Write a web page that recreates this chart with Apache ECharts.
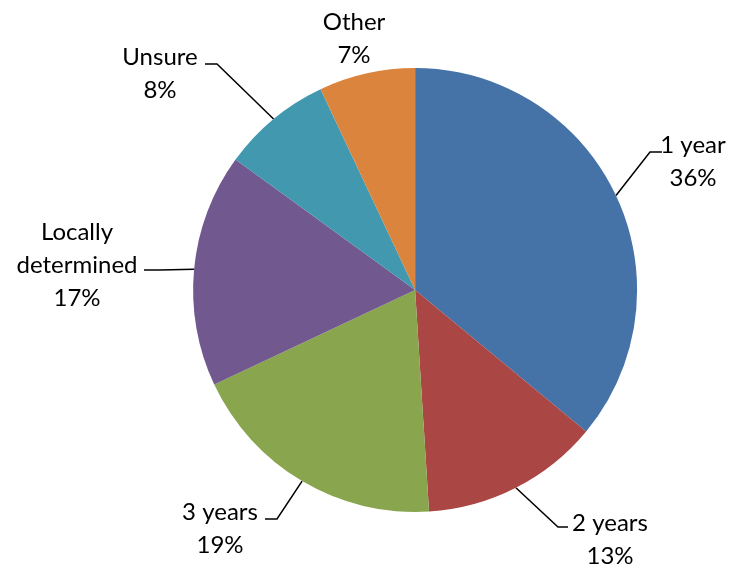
<!DOCTYPE html>
<html><head><meta charset="utf-8">
<script src="https://cdn.jsdelivr.net/npm/echarts@6/dist/echarts.min.js"></script>
<style>html,body{margin:0;padding:0;background:#fff}#c{width:736px;height:567px}</style>
</head><body><div id="c"></div>
<script>
var categories = ['1 year', '2 years', '3 years', 'Locally determined', 'Unsure', 'Other'];
var labelNames = ['1 year', '2 years', '3 years', 'Locally\ndetermined', 'Unsure', 'Other'];
var values = [36, 13, 19, 17, 8, 7];
var colors = ['#4572A7', '#AA4643', '#89A54E', '#71588F', '#4198AF', '#DB843D'];

// label anchor (text block centre) and leader line bend / end points
var labelPos = [
  {x: 693, y: 162, bend: [650, 152], end: [662, 152]},
  {x: 610, y: 540, bend: [558, 527], end: [568, 527]},
  {x: 220, y: 529, bend: [277, 519], end: [265, 519]},
  {x: 77,  y: 265, bend: [160, 270], end: [144, 270]},
  {x: 160, y: 74,  bend: [217, 64],  end: [205, 64]},
  {x: 354, y: 39,  bend: null, end: null}
];

var chart = echarts.init(document.getElementById('c'), null, {renderer: 'canvas'});
var data = categories.map(function (c, i) {
  return {
    name: c, value: values[i],
    itemStyle: {color: colors[i]},
    label: {formatter: labelNames[i] + '\n' + values[i] + '%'},
    labelLine: {show: i !== 5}
  };
});
chart.setOption({
  animation: false,
  series: [{
    type: 'pie',
    center: ['56.4%', '51.15%'],
    radius: 222,
    startAngle: 90,
    clockwise: true,
    data: data,
    itemStyle: {borderWidth: 0},
    label: {
      show: true,
      position: 'outside',
      fontFamily: 'Lato',
      fontSize: 24,
      lineHeight: 33,
      color: '#000',
      align: 'center'
    },
    labelLine: {show: true, length: 20, length2: 10, lineStyle: {color: '#000', width: 1.5}},
    labelLayout: function (params) {
      var p = labelPos[params.dataIndex];
      var out = {x: p.x, y: p.y, align: 'center', verticalAlign: 'middle'};
      if (p.bend && params.labelLinePoints) {
        out.labelLinePoints = [params.labelLinePoints[0], p.bend, p.end];
      }
      return out;
    }
  }]
});
</script></body></html>
